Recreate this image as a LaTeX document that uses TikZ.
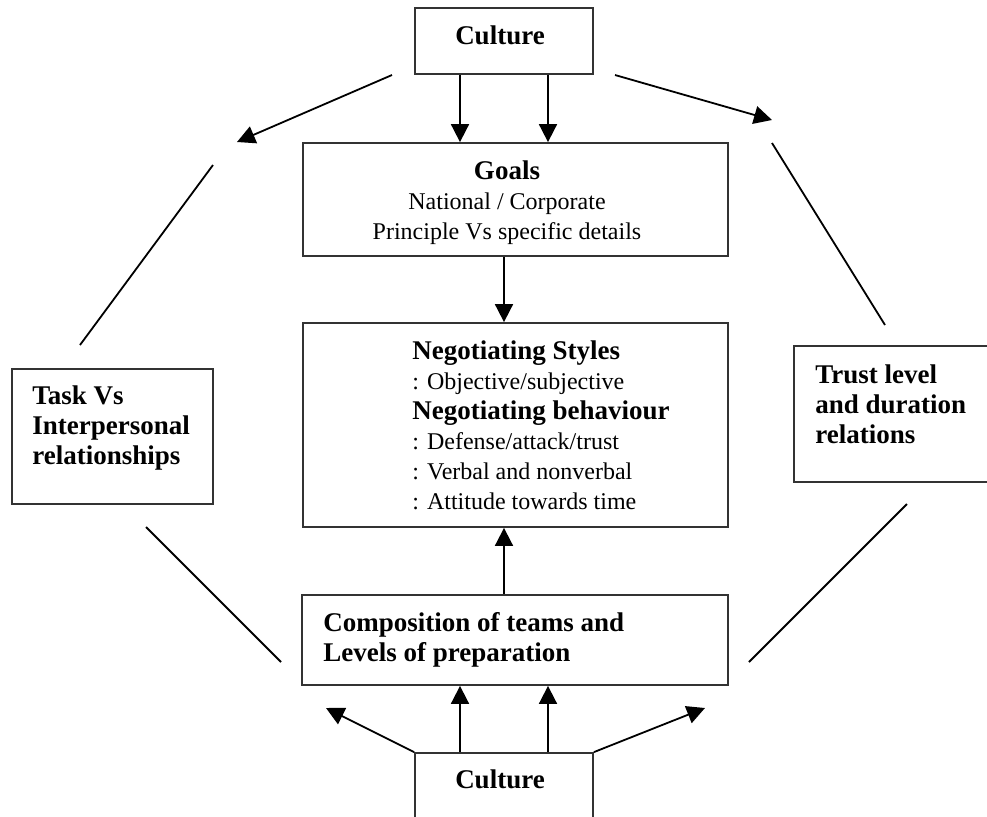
\documentclass[tikz,border=0pt]{standalone}
\usepackage{fontspec}
\setmainfont{Liberation Serif}
\usetikzlibrary{arrows.meta}
\newcommand{\hdfont}{\fontsize{13.5}{15}\selectfont\bfseries}
\newcommand{\txfont}{\fontsize{12}{15}\selectfont}
\begin{document}
\begin{tikzpicture}[x=0.5pt,y=-0.5pt,
        box/.style={draw=black!80,line width=0.9pt,inner sep=0pt},
        txt/.style={inner sep=0pt,align=left,font=\txfont},
        arr/.style={line width=0.9pt,-{Triangle[length=9pt,width=9pt]}},
        ln/.style={line width=0.9pt}]
            \useasboundingbox (0,0) rectangle (987,816);
            \clip (0,0) rectangle (987,816);
            \node [box,minimum width=89pt,minimum height=33pt] (cultop) at (504,41) {};
            \node [txt,anchor=base] (cultoplabel) at (500,44) {\hdfont Culture};
            \node [box,minimum width=212.5pt,minimum height=56.5pt] (goals) at (515.5,199.5) {};
            \node [txt,align=center,anchor=north] (goalslabel) at (507,160) {{\hdfont Goals}\\National / Corporate\\Principle Vs specific details};
            \node [box,minimum width=212.5pt,minimum height=102pt] (nego) at (515.5,425) {};
            \node [txt,anchor=north west] (negolabel) at (412,340) {{\hdfont Negotiating Styles}\\: Objective/subjective\\{\hdfont Negotiating behaviour}\\: Defense/attack/trust\\: Verbal and nonverbal\\: Attitude towards time};
            \node [box,minimum width=213pt,minimum height=45pt] (comp) at (515,640) {};
            \node [txt,anchor=north west,font=\hdfont] (complabel) at (323,612) {Composition of teams and\\Levels of preparation};
            \node [box,minimum width=89pt,minimum height=50pt] (culbot) at (504,803) {};
            \node [txt,anchor=base] (culbotlabel) at (500,788) {\hdfont Culture};
            \node [box,minimum width=100.5pt,minimum height=67.5pt] (task) at (112.5,436.5) {};
            \node [txt,anchor=north west,font=\hdfont] (tasklabel) at (32,385) {Task Vs\\Interpersonal\\relationships};
            \node [box,minimum width=110pt,minimum height=68pt] (trust) at (904,414) {};
            \node [txt,anchor=north west,font=\hdfont] (trustlabel) at (815,364) {Trust level\\and duration\\relations};
            \coordinate (tl1) at (392,75);
            \coordinate (tl2) at (237,142);
            \coordinate (tr1) at (615,75);
            \coordinate (tr2) at (772,120);
            \coordinate (bl) at (326,708);
            \coordinate (br) at (705,708);
            \coordinate (la1) at (213,165);
            \coordinate (la2) at (80,345);
            \coordinate (ra1) at (772,143);
            \coordinate (ra2) at (885,325);
            \coordinate (lb1) at (146,527);
            \coordinate (lb2) at (281,662);
            \coordinate (rb1) at (907,504);
            \coordinate (rb2) at (749,662);
            \draw [arr] ([xshift=-22pt]cultop.south) -- ([xshift=-22pt]cultop.south |- goals.north);
            \draw [arr] ([xshift=22pt]cultop.south) -- ([xshift=22pt]cultop.south |- goals.north);
            \draw [arr] (goals.south -| cultop) -- (nego.north -| cultop);
            \draw [arr] (comp.north -| culbot) -- (nego.south -| culbot);
            \draw [arr] ([xshift=-22pt]culbot.north) -- ([xshift=-22pt]culbot.north |- comp.south);
            \draw [arr] ([xshift=22pt]culbot.north) -- ([xshift=22pt]culbot.north |- comp.south);
            \draw [arr] (culbot.north west) -- (bl);
            \draw [arr] (culbot.north east) -- (br);
            \draw [arr] (tl1) -- (tl2);
            \draw [arr] (tr1) -- (tr2);
            \draw [ln] (la1) -- (la2);
            \draw [ln] (ra1) -- (ra2);
            \draw [ln] (lb1) -- (lb2);
            \draw [ln] (rb1) -- (rb2);
\end{tikzpicture}
\end{document}
